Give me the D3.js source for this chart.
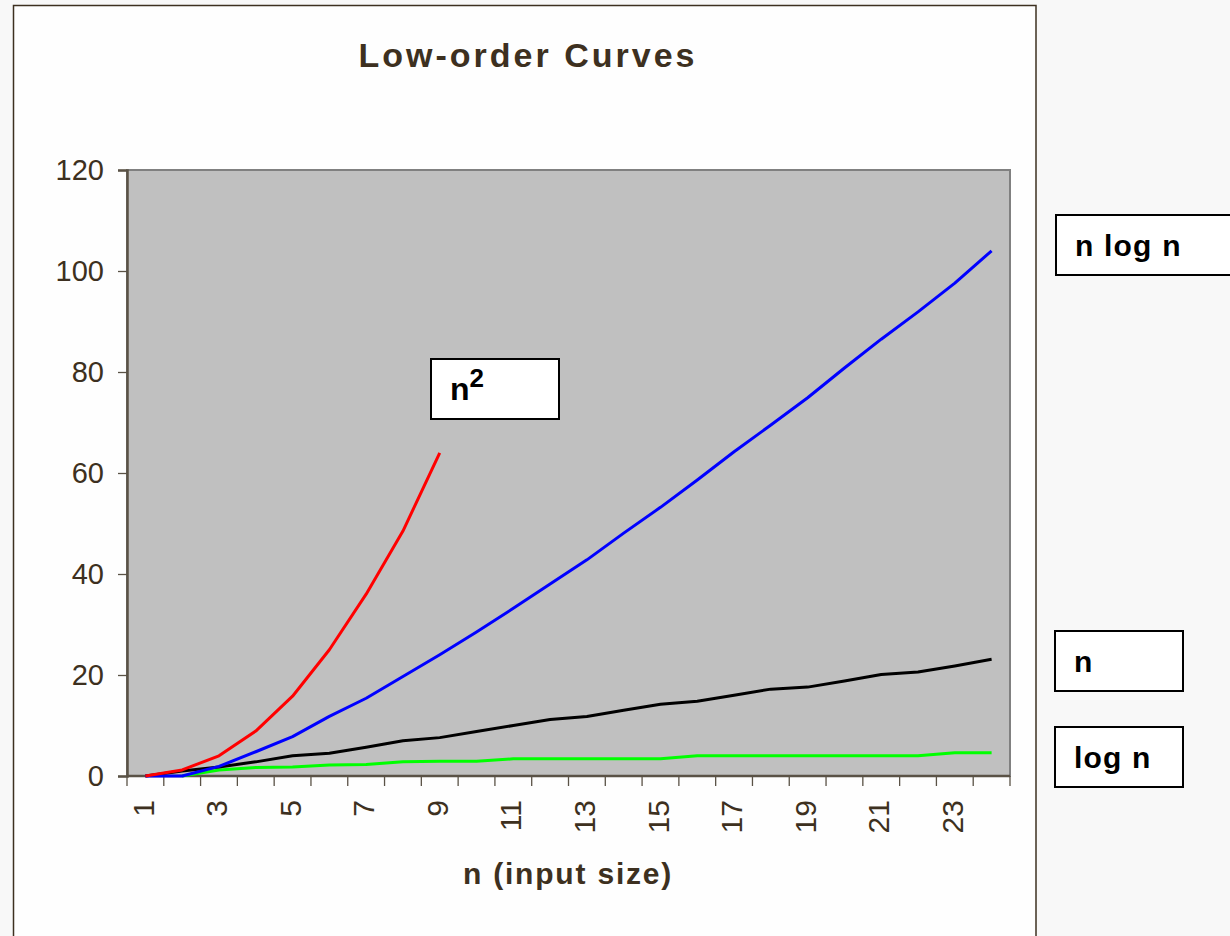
<!DOCTYPE html>
<html>
<head>
<meta charset="utf-8">
<script src="https://cdn.jsdelivr.net/npm/d3@7"></script>
<style>
  html, body { margin: 0; padding: 0; background: #f8f8f8; }
  svg { display: block; }
</style>
</head>
<body>
<svg id="chart" width="1230" height="936"></svg>
<script>
// ---- data ----
const categories = d3.range(1, 25).map(String); // "1".."24"
const xTickLabels = ["1","3","5","7","9","11","13","15","17","19","21","23"];
const yTicks = [0, 20, 40, 60, 80, 100, 120];

const nSquared = [0, 1.2, 4, 8.9, 15.8, 25, 36, 48.5, 64];
const nLogN = [0, 0, 1.9, 4.8, 7.8, 11.8, 15.4, 19.7, 24, 28.5, 33.2, 38, 42.8, 48.1, 53.2, 58.6, 64.2, 69.5, 74.9, 80.8, 86.5, 91.9, 97.6, 104];
const nLinear = [0, 1, 1.8, 2.8, 4, 4.5, 5.7, 7, 7.6, 8.8, 10, 11.2, 11.8, 13, 14.2, 14.8, 16, 17.2, 17.6, 18.8, 20.1, 20.6, 21.8, 23.1];
const logN = [null, 0, 1.2, 1.7, 1.8, 2.2, 2.3, 2.8, 2.9, 2.9, 3.4, 3.4, 3.4, 3.4, 3.4, 4, 4, 4, 4, 4, 4, 4, 4.6, 4.6];

const series = [
  { name: "n2", values: nSquared, color: "#ff0000" },
  { name: "nlogn", values: nLogN, color: "#0000ff" },
  { name: "n", values: nLinear, color: "#000000" },
  { name: "logn", values: logN, color: "#00ff00" }
];

const labels = [
  { text: "n log n", x: 1056, y: 215, w: 190, h: 60 },
  { text: "n", x: 1055, y: 631, w: 128, h: 60 },
  { text: "log n", x: 1055, y: 727, w: 128, h: 60 }
];

// ---- layout ----
const svg = d3.select("#chart");
const textColor = "#3d3020";
const plot = { left: 127, right: 1010, top: 170, bottom: 776 };

// outer white panel
svg.append("rect")
  .attr("x", 13.5).attr("y", 5.5)
  .attr("width", 1036 - 13.5).attr("height", 960)
  .attr("fill", "#fefefe")
  .attr("stroke", "#3d3020").attr("stroke-width", 1.5);

const x = d3.scaleBand().domain(categories).range([plot.left, plot.right]).padding(0);
const y = d3.scaleLinear().domain([0, 120]).range([plot.bottom, plot.top]);

// plot background
svg.append("rect")
  .attr("x", plot.left).attr("y", plot.top)
  .attr("width", plot.right - plot.left).attr("height", plot.bottom - plot.top)
  .attr("fill", "#c0c0c0")
  .attr("stroke", "#808080").attr("stroke-width", 2);

// title
svg.append("text")
  .attr("x", 528).attr("y", 67)
  .attr("text-anchor", "middle")
  .attr("font-family", "Liberation Sans, Arial, sans-serif")
  .attr("font-weight", "bold")
  .attr("font-size", 34)
  .attr("letter-spacing", 3)
  .attr("fill", textColor)
  .text("Low-order Curves");

// y axis
const yAxis = d3.axisLeft(y).tickValues(yTicks).tickSize(9).tickPadding(14);
const gy = svg.append("g").attr("transform", `translate(${plot.left},0)`).call(yAxis);
gy.select(".domain").attr("stroke", "#5a5246").attr("stroke-width", 2.5);
gy.selectAll(".tick line").attr("stroke", "#5a5246").attr("stroke-width", 1.3);
gy.selectAll(".tick text")
  .attr("font-family", "Liberation Sans, Arial, sans-serif")
  .attr("font-size", 29)
  .attr("fill", textColor);

// x axis: ticks at category boundaries
const boundaries = categories.map(c => x(c)).concat([plot.right]);
const gx = svg.append("g");
gx.append("line")
  .attr("x1", plot.left).attr("x2", plot.right)
  .attr("y1", plot.bottom).attr("y2", plot.bottom)
  .attr("stroke", "#5a5246").attr("stroke-width", 2.5);
gx.selectAll("line.tick").data(boundaries).join("line")
  .attr("class", "tick")
  .attr("x1", d => d).attr("x2", d => d)
  .attr("y1", plot.bottom).attr("y2", plot.bottom + 10)
  .attr("stroke", "#5a5246").attr("stroke-width", 1.3);
gx.selectAll("text").data(xTickLabels).join("text")
  .attr("transform", d => `translate(${x(d) + x.bandwidth() / 2 - 3},${plot.bottom + 24}) rotate(-90)`)
  .attr("text-anchor", "end")
  .attr("dy", "0.37em")
  .attr("font-family", "Liberation Sans, Arial, sans-serif")
  .attr("font-size", 30)
  .attr("fill", textColor)
  .text(d => d);

// x axis title
svg.append("text")
  .attr("x", 568).attr("y", 884)
  .attr("text-anchor", "middle")
  .attr("font-family", "Liberation Sans, Arial, sans-serif")
  .attr("font-weight", "bold")
  .attr("font-size", 30)
  .attr("letter-spacing", 1.8)
  .attr("fill", textColor)
  .text("n (input size)");

// lines
const line = d3.line()
  .defined(d => d != null)
  .x((d, i) => x(categories[i]) + x.bandwidth() / 2)
  .y(d => y(d));

svg.append("g").selectAll("path").data(series.slice().reverse()).join("path")
  .attr("d", s => line(s.values))
  .attr("fill", "none")
  .attr("stroke", s => s.color)
  .attr("stroke-width", 3)
  .attr("stroke-linejoin", "round");

// n^2 label box
const n2g = svg.append("g");
n2g.append("rect")
  .attr("x", 431).attr("y", 359).attr("width", 128).attr("height", 60)
  .attr("fill", "#ffffff").attr("stroke", "#000").attr("stroke-width", 2);
const n2t = n2g.append("text")
  .attr("x", 450).attr("y", 400)
  .attr("font-family", "Liberation Sans, Arial, sans-serif")
  .attr("font-weight", "bold")
  .attr("font-size", 32)
  .attr("fill", "#000");
n2t.append("tspan").text("n");
n2t.append("tspan").attr("dy", -13).attr("font-size", 26).text("2");

// right-side labels
const lg = svg.append("g").selectAll("g").data(labels).join("g");
lg.append("rect")
  .attr("x", d => d.x).attr("y", d => d.y)
  .attr("width", d => d.w).attr("height", d => d.h)
  .attr("fill", "#ffffff").attr("stroke", "#000").attr("stroke-width", 2);
lg.append("text")
  .attr("x", d => d.x + 19).attr("y", d => d.y + 41)
  .attr("font-family", "Liberation Sans, Arial, sans-serif")
  .attr("font-weight", "bold")
  .attr("font-size", 30)
  .attr("letter-spacing", 1.2)
  .attr("fill", "#000")
  .text(d => d.text);
</script>
</body>
</html>
